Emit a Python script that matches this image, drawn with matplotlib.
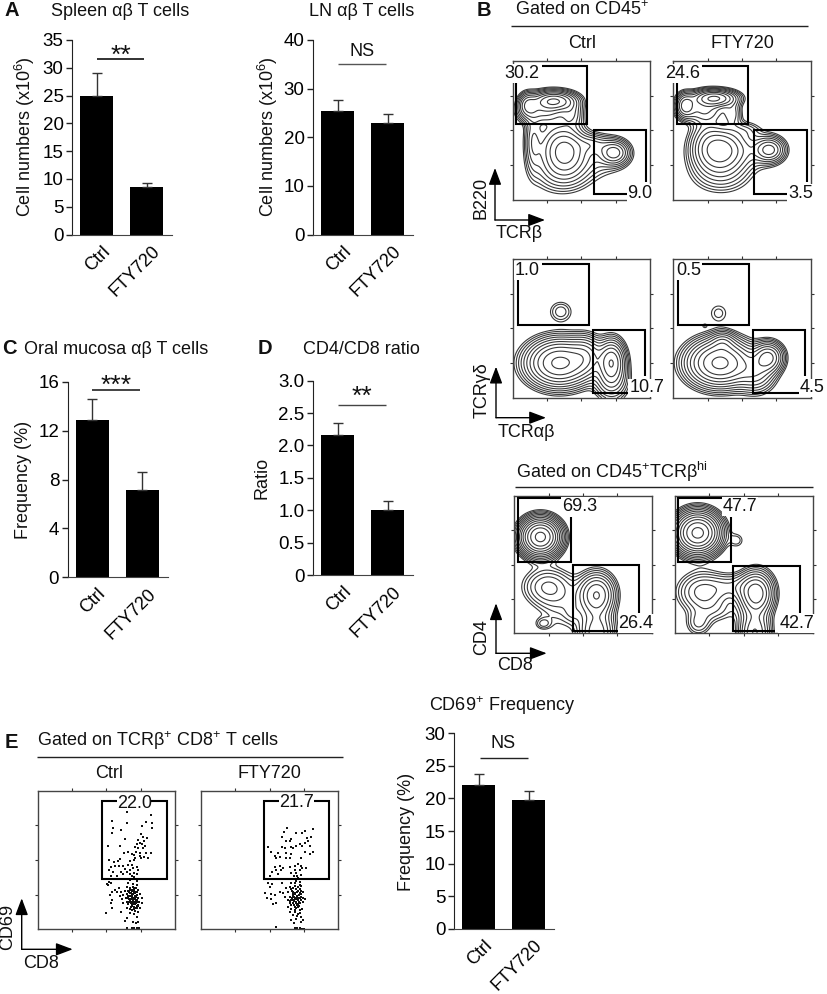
#!/usr/bin/env python3
# -*- coding: utf-8 -*-

"""
Multi panel figure: bar charts and flow cytometry plots, Ctrl vs FTY720.
"""

import matplotlib
matplotlib.use("Agg")
import matplotlib.pyplot as plt
import matplotlib.transforms as mtrans
import numpy as np

plt.rcParams['font.family'] = ['Liberation Sans', 'DejaVu Sans']
plt.rcParams['mathtext.default'] = 'regular'

W, H = 827, 994

# BAR DATA ####################################################################

groups = ["Ctrl", "FTY720"]

spleen_values = [25.0, 8.6]
spleen_errors = [4.0, 0.6]
spleen_ticks = [0, 5, 10, 15, 20, 25, 30, 35]

ln_values = [25.5, 23.0]
ln_errors = [2.2, 1.8]
ln_ticks = [0, 10, 20, 30, 40]

oral_values = [12.9, 7.1]
oral_errors = [1.7, 1.5]
oral_ticks = [0, 4, 8, 12, 16]

ratio_values = [2.16, 1.0]
ratio_errors = [0.18, 0.15]
ratio_ticks = [0, 0.5, 1.0, 1.5, 2.0, 2.5, 3.0]
ratio_labels = ["0", "0.5", "1.0", "1.5", "2.0", "2.5", "3.0"]

cd69_values = [22.0, 19.8]
cd69_errors = [1.8, 1.4]
cd69_ticks = [0, 5, 10, 15, 20, 25, 30]

# FACS POPULATIONS: (x, y, sigma x, sigma y, height), in fraction of the plot #

b220_ctrl = [(0.30, 0.71, 0.09, 0.04, 1.0), (0.22, 0.63, 0.10, 0.05, 0.30), (0.11, 0.68, 0.04, 0.05, 0.45),
             (0.43, 0.62, 0.05, 0.06, 0.22), (0.38, 0.35, 0.09, 0.10, 0.75), (0.74, 0.34, 0.06, 0.05, 0.55),
             (0.15, 0.42, 0.035, 0.13, 0.20), (0.27, 0.42, 0.11, 0.17, 0.12), (0.38, 0.20, 0.13, 0.09, 0.16),
             (0.62, 0.32, 0.13, 0.09, 0.14), (0.58, 0.40, 0.07, 0.04, 0.18)]
b220_fty = [(0.30, 0.73, 0.09, 0.035, 1.0), (0.22, 0.64, 0.10, 0.05, 0.30), (0.09, 0.68, 0.04, 0.05, 0.55),
            (0.43, 0.62, 0.04, 0.06, 0.20), (0.34, 0.36, 0.105, 0.09, 0.85), (0.70, 0.36, 0.06, 0.05, 0.50),
            (0.24, 0.48, 0.07, 0.14, 0.12), (0.35, 0.20, 0.13, 0.09, 0.18), (0.60, 0.36, 0.12, 0.08, 0.14),
            (0.52, 0.50, 0.07, 0.04, 0.10)]
tcrgd_ctrl = [(0.34, 0.25, 0.125, 0.09, 1.0), (0.72, 0.26, 0.055, 0.085, 0.60), (0.53, 0.30, 0.07, 0.08, 0.30),
              (0.72, 0.12, 0.07, 0.08, 0.20), (0.35, 0.62, 0.055, 0.05, 0.075)]
tcrgd_fty = [(0.34, 0.25, 0.125, 0.09, 1.0), (0.69, 0.29, 0.06, 0.06, 0.50), (0.36, 0.40, 0.05, 0.045, 0.18),
             (0.60, 0.18, 0.08, 0.08, 0.25), (0.33, 0.61, 0.05, 0.05, 0.05), (0.23, 0.52, 0.014, 0.012, 0.035)]
cd4_ctrl = [(0.19, 0.70, 0.08, 0.075, 1.0), (0.24, 0.34, 0.11, 0.085, 0.12), (0.60, 0.28, 0.08, 0.095, 0.29),
            (0.21, 0.07, 0.04, 0.03, 0.05), (0.35, 0.20, 0.12, 0.12, 0.05), (0.42, 0.15, 0.04, 0.05, 0.03),
            (0.60, 0.00, 0.08, 0.10, 0.20)]
cd4_fty = [(0.165, 0.73, 0.09, 0.083, 1.0), (0.45, 0.675, 0.038, 0.038, 0.045), (0.20, 0.30, 0.11, 0.09, 0.14),
           (0.59, 0.29, 0.075, 0.095, 0.35), (0.17, 0.07, 0.06, 0.06, 0.07), (0.42, 0.34, 0.10, 0.06, 0.07),
           (0.58, 0.00, 0.07, 0.10, 0.22), (0.30, 0.16, 0.10, 0.06, 0.04)]

# CD8 / CD69 EVENTS, CD69 channel counted from the top ##

events_ctrl = [(97, 22), (168, 30), (52, 47), (95, 53), (152, 50), (170, 55), (141, 63), (170, 70), (55, 70), (77, 75),
               (50, 85), (137, 88), (143, 97), (155, 100), (91, 103), (130, 105), (147, 108), (135, 115), (125, 118),
               (140, 118), (150, 122), (38, 122), (75, 122), (120, 125), (128, 128), (145, 128), (100, 142), (87, 143),
               (122, 140), (135, 143), (153, 143), (167, 143), (110, 148), (118, 150), (135, 153), (148, 155),
               (120, 160), (75, 163), (42, 165), (68, 167), (58, 170), (105, 168), (160, 158), (118, 165), (137, 160),
               (47, 185), (72, 183), (85, 183), (100, 180), (110, 180), (125, 185), (60, 183), (42, 195), (90, 192),
               (105, 195), (115, 190), (130, 195), (55, 200), (78, 200), (95, 200), (118, 203), (125, 208), (105, 207),
               (85, 207), (65, 213), (48, 212), (110, 212), (118, 215), (115, 222), (125, 228), (105, 225), (42, 232),
               (35, 238), (47, 235), (40, 240), (100, 235), (115, 238), (125, 240), (60, 255), (72, 250), (95, 245),
               (105, 248), (118, 250), (50, 262), (65, 262), (78, 262), (90, 258), (100, 258), (110, 258), (122, 260),
               (128, 255), (45, 270), (75, 272), (85, 270), (95, 268), (105, 265), (115, 268), (125, 270), (135, 268),
               (50, 285), (80, 282), (92, 280), (100, 278), (110, 275), (118, 278), (128, 280), (140, 278), (48, 295),
               (85, 295), (95, 290), (105, 288), (115, 285), (122, 288), (132, 290), (142, 295), (100, 298), (110, 298),
               (120, 298), (128, 300), (50, 310), (95, 308), (108, 305), (118, 305), (125, 310), (135, 308), (32, 325),
               (78, 320), (110, 315), (120, 318), (130, 320), (105, 325), (118, 328), (95, 338), (125, 335), (115, 350),
               (122, 355), (128, 352), (90, 348), (118, 368), (125, 370), (132, 370), (95, 370), (110, 370), (108, 282),
               (124, 276), (112, 292), (120, 282), (104, 272), (116, 262), (126, 302), (112, 270), (118, 292),
               (106, 255), (114, 245), (121, 265), (127, 285), (103, 283), (111, 302), (116, 311), (123, 294),
               (98, 272), (107, 293), (113, 280), (119, 272), (126, 262), (101, 290), (130, 303), (114, 298),
               (109, 263), (117, 256), (124, 248), (112, 255), (120, 308), (106, 312), (128, 292), (102, 262)]

events_fty = [(88, 70), (78, 80), (115, 85), (140, 77), (165, 72), (132, 85), (72, 97), (160, 97), (148, 100),
              (100, 103), (95, 108), (85, 107), (150, 108), (30, 127), (72, 125), (80, 130), (100, 125), (115, 122),
              (133, 122), (155, 122), (125, 118), (140, 115), (105, 128), (40, 142), (60, 145), (85, 145), (100, 148),
              (140, 142), (155, 148), (165, 140), (128, 158), (50, 152), (55, 160), (65, 155), (85, 158), (95, 158),
              (120, 178), (50, 185), (65, 183), (75, 190), (95, 185), (110, 182), (128, 182), (133, 190), (145, 190),
              (42, 200), (55, 195), (68, 195), (110, 195), (125, 195), (60, 208), (100, 205), (115, 205), (35, 212),
              (108, 212), (118, 212), (128, 210), (120, 220), (115, 228), (125, 230), (72, 235), (30, 235), (42, 237),
              (100, 235), (110, 235), (35, 245), (95, 245), (110, 242), (120, 245), (130, 243), (85, 250), (100, 252),
              (115, 252), (125, 252), (20, 265), (40, 268), (50, 270), (65, 262), (75, 265), (90, 262), (105, 262),
              (112, 265), (125, 265), (135, 262), (28, 280), (38, 283), (80, 275), (95, 275), (105, 272), (118, 275),
              (130, 275), (90, 285), (100, 285), (110, 283), (120, 285), (130, 285), (140, 282), (45, 298), (55, 295),
              (95, 295), (105, 295), (115, 293), (125, 295), (135, 292), (90, 305), (110, 305), (120, 305), (100, 312),
              (125, 315), (133, 312), (95, 322), (110, 322), (125, 325), (118, 333), (100, 345), (108, 355), (135, 345),
              (130, 352), (55, 365), (110, 370), (118, 368), (125, 370), (132, 371), (138, 371), (112, 278), (122, 290),
              (104, 268), (116, 300), (128, 258), (108, 288), (120, 278), (98, 300), (126, 240), (114, 310),
              (103, 258), (117, 262), (122, 270), (109, 275), (115, 283), (127, 280), (101, 278), (106, 285),
              (113, 290), (119, 296), (124, 303), (107, 300), (111, 268), (129, 268), (97, 288), (116, 272),
              (121, 258), (105, 248), (134, 278), (112, 316), (120, 326), (128, 335), (106, 330), (115, 342)]


# HELPERS #####################################################################

def new_axes(fig, left, top, right, bottom):
    return fig.add_axes([left / W, 1 - bottom / H, (right - left) / W, (bottom - top) / H])


def bar_panel(fig, axis_x, top, bottom, values, errors, ticks, tick_labels=None):
    ax = new_axes(fig, axis_x, top, axis_x + 100, bottom)
    ax.bar([0, 1], values, width=0.66, color='black')
    ax.errorbar([0, 1], values, yerr=[[0, 0], errors], fmt='none', ecolor='#333333',
                elinewidth=1, capsize=3.5, capthick=1)
    ax.set_xlim(-0.49, 1.51)
    ax.set_ylim(ticks[0], ticks[-1])
    ax.set_yticks(ticks)
    ax.set_yticklabels(tick_labels if tick_labels else [str(t) for t in ticks], fontsize=13.5)
    ax.set_xticks([0, 1])
    ax.set_xticklabels(groups, fontsize=13, rotation=45, ha='right', rotation_mode='anchor')
    ax.tick_params(axis='x', length=0, pad=6)
    ax.tick_params(axis='y', length=4, width=1, pad=2, color='#222222')
    shift = mtrans.ScaledTranslation(5 / 100, 0, fig.dpi_scale_trans)
    for label in ax.get_xticklabels():
        label.set_transform(label.get_transform() + shift)
    ax.spines['top'].set_visible(False)
    ax.spines['right'].set_visible(False)
    ax.spines['left'].set_color('#222222')
    ax.spines['bottom'].set_color('#444444')
    return ax


def facs_axes(fig, left, top, right, bottom):
    ax = new_axes(fig, left, top, right, bottom)
    ax.set_xticks([0.25, 0.5, 0.75])
    ax.set_yticks([0.25, 0.5, 0.75])
    ax.set_xticklabels([])
    ax.set_yticklabels([])
    ax.tick_params(top=True, right=True, length=2.5, width=0.8, color='#333333')
    for spine in ax.spines.values():
        spine.set_color('#444444')
        spine.set_linewidth(1)
    return ax


def contour_panel(fig, box, populations, low=0.05, n_levels=10):
    ax = facs_axes(fig, *box)
    x, y = np.meshgrid(np.linspace(0, 1, 320), np.linspace(0, 1, 320))
    density = np.zeros_like(x)
    for cx, cy, sx, sy, height in populations:
        density += height * np.exp(-0.5 * (((x - cx) / sx) ** 2 + ((y - cy) / sy) ** 2))
    levels = np.geomspace(low, density.max() * 0.9, n_levels)
    ax.contour(x, y, density, levels=levels, colors='#3a3a3a', linewidths=0.8)
    ax.set_xlim(0, 1)
    ax.set_ylim(0, 1)
    return ax


def dot_panel(fig, box, events, xlim):
    ax = facs_axes(fig, *box)
    cd8 = [e[0] for e in events]
    cd69 = [e[1] for e in events]
    ax.scatter(cd8, cd69, s=0.8, color='#111111', linewidths=0, marker='s')
    ax.set_xlim(*xlim)
    ax.set_ylim(373, -43)
    ax.set_xticks(np.linspace(xlim[0], xlim[1], 5)[1:-1])
    ax.set_yticks(np.linspace(373, -43, 5)[1:-1])
    ax.set_xticklabels([])
    ax.set_yticklabels([])
    return ax


# PLOT ########################################################################

fig = plt.figure(figsize=(W / 100, H / 100), dpi=100)

bar_panel(fig, 72, 40, 234.5, spleen_values, spleen_errors, spleen_ticks)
bar_panel(fig, 313, 40, 234.5, ln_values, ln_errors, ln_ticks)
bar_panel(fig, 67.5, 382, 577, oral_values, oral_errors, oral_ticks)
bar_panel(fig, 313, 380.7, 575, ratio_values, ratio_errors, ratio_ticks, ratio_labels)
bar_panel(fig, 454, 733.3, 928.7, cd69_values, cd69_errors, cd69_ticks)

contour_panel(fig, (512.7, 60.7, 650, 200), b220_ctrl)
contour_panel(fig, (673, 60.7, 811, 200), b220_fty)
contour_panel(fig, (512.7, 259, 650, 397.7), tcrgd_ctrl, low=0.03, n_levels=11)
contour_panel(fig, (673, 259, 811, 397.7), tcrgd_fty, low=0.03, n_levels=11)
contour_panel(fig, (514.3, 495.7, 651.7, 633.3), cd4_ctrl, low=0.03, n_levels=13)
contour_panel(fig, (675, 495.7, 812.7, 633.3), cd4_fty, low=0.03, n_levels=13)

dot_panel(fig, (37.7, 790.7, 175, 929.3), events_ctrl, (-172, 240))
dot_panel(fig, (201, 790.7, 338.3, 929.3), events_fty, (-171, 241))

# everything else is placed in figure pixels on a clear overlay
over = fig.add_axes([0, 0, 1, 1], facecolor='none', zorder=10)
over.set_xlim(0, W)
over.set_ylim(H, 0)
over.axis('off')


def txt(x, y, s, size=13, rot=0, ha='center', **kw):
    over.text(x, y, s, fontsize=size, rotation=rot, ha=ha, va='center', color='#111111', **kw)


def gate_label(x, y, s):
    # the number covers the plot frame below it
    txt(x, y, s, bbox=dict(facecolor='white', edgecolor='none', pad=0.6))


def rule(x0, x1, y, color='#222222', lw=1.0):
    over.plot([x0, x1], [y, y], color=color, lw=lw, solid_capstyle='butt')


def gate(xs, ys):
    over.plot(xs, ys, color='black', lw=1.5, solid_joinstyle='miter', solid_capstyle='butt')


def arrows(x, y, top, right):
    for end in [(x, top), (right, y)]:
        over.annotate('', xy=end, xytext=(x, y),
                      arrowprops=dict(arrowstyle='-|>,head_length=0.85,head_width=0.32', color='black',
                                      lw=1, shrinkA=0, shrinkB=0, mutation_scale=12))


# panel letters
for letter, x, y in [('A', 11.7, 11), ('B', 484, 10), ('C', 9, 348.5), ('D', 265, 348), ('E', 11, 743)]:
    txt(x, y, letter, size=14.5, fontweight='bold')

# bar titles, y labels, significance
txt(120, 11, 'Spleen αβ T cells')
txt(361.7, 11, 'LN αβ T cells')
txt(115.7, 350, 'Oral mucosa αβ T cells')
txt(361.7, 350, 'CD4/CD8 ratio')
txt(501.7, 705.7, 'CD69$^{+}$ Frequency')

txt(25, 136.7, 'Cell numbers (x10$^{6}$)', rot=90)
txt(267.7, 136.7, 'Cell numbers (x10$^{6}$)', rot=90)
txt(23.3, 480, 'Frequency (%)', rot=90)
txt(262.3, 478, 'Ratio', rot=90)
txt(406.7, 831.7, 'Frequency (%)', rot=90)

rule(96.7, 144.3, 58.7, lw=1.3)
txt(120.7, 55.5, '**', 19)
rule(338.3, 385.7, 64.3, color='#555555')
txt(361.7, 51.7, 'NS')
rule(92, 140, 390.3, lw=1.2)
txt(116, 386, '***', 19)
rule(338, 386, 405.3, color='#444444')
txt(362.3, 397, '**', 19)
rule(480.3, 527.7, 758.3)
txt(503.3, 744, 'NS')

# panel B headers
txt(515, 10, 'Gated on CD45$^{+}$', ha='left')
rule(510.7, 807.7, 26)
txt(581.7, 43, 'Ctrl')
txt(742.7, 43, 'FTY720')
txt(516, 471.7, 'Gated on CD45$^{+}$TCRβ$^{hi}$', ha='left')
rule(515, 812.7, 487.3)

# panel B axis arrows
arrows(495, 220, 168, 545)
txt(481, 198, 'B220', rot=90)
txt(519.3, 233, 'TCRβ')
arrows(496, 417.7, 366.7, 546)
txt(482, 390, 'TCRγδ', rot=90)
txt(526, 432.7, 'TCRαβ')
arrows(496, 653.3, 603.3, 546.7)
txt(482, 636.7, 'CD4', rot=90)
txt(515, 665, 'CD8')

# panel B gates, row 1
gate_label(521.7, 73.5, '30.2')
gate_label(640, 193.5, '9.0')
gate_label(682.3, 73.5, '24.6')
gate_label(800.7, 193.5, '3.5')
gate([515.7, 515.7, 587.3, 587.3, 541.7], [81.7, 123.7, 123.7, 66, 66])
gate([626.7, 593.7, 593.7, 645.7, 645.7], [194.3, 194.3, 130.3, 130.3, 182])
gate([676.7, 676.7, 748, 748, 701.7], [81.7, 123.7, 123.7, 66, 66])
gate([786.7, 754.3, 754.3, 807.3, 807.3], [194.3, 194.3, 130.3, 130.3, 182])

# row 2
gate_label(527.3, 270.7, '1.0')
gate_label(646.7, 388, '10.7')
gate_label(688.3, 270.7, '0.5')
gate_label(812, 388, '4.5')
gate([517.7, 517.7, 588.7, 588.7, 541.7], [280, 325, 325, 264, 264])
gate([628.3, 592.7, 592.7, 645.3, 645.3], [392.7, 392.7, 330.3, 330.3, 376])
gate([678.3, 678.3, 749.3, 749.3, 701.7], [280, 325, 325, 264, 264])
gate([799.3, 753.3, 753.3, 805.3, 805.3], [392.7, 392.7, 330.3, 330.3, 376])

# row 3
gate_label(579.3, 506.7, '69.3')
gate_label(636, 623.3, '26.4')
gate_label(740, 506.7, '47.7')
gate_label(796.7, 623.3, '42.7')
gate([561.7, 517.7, 517.7, 570.7, 570.7], [497.7, 497.7, 562.3, 562.3, 516.7])
gate([617.7, 573, 573, 639, 639], [630.7, 630.7, 565.3, 565.3, 612.7])
gate([722.7, 678.3, 678.3, 731.3, 731.3], [497.7, 497.7, 562.3, 562.3, 516.7])
gate([775, 733.3, 733.3, 800, 800], [630.7, 630.7, 566.3, 566.3, 612.7])

# panel E
txt(36.7, 740.7, 'Gated on TCRβ$^{+}$ CD8$^{+}$ T cells', ha='left')
rule(37, 343, 757.3)
txt(109, 773, 'Ctrl')
txt(269.3, 773, 'FTY720')
gate([117, 102, 102, 166.7, 166.7, 151], [801, 801, 878.7, 878.7, 801, 801])
gate([279, 264.3, 264.3, 329.3, 329.3, 314], [801, 801, 878.7, 878.7, 801, 801])
txt(134.3, 803.3, '22.0')
txt(296.7, 802.5, '21.7')
arrows(21.7, 949.3, 898.3, 72.7)
txt(8, 927, 'CD69', rot=90)
txt(40.7, 963.3, 'CD8')

plt.savefig("out.png", dpi=100)
